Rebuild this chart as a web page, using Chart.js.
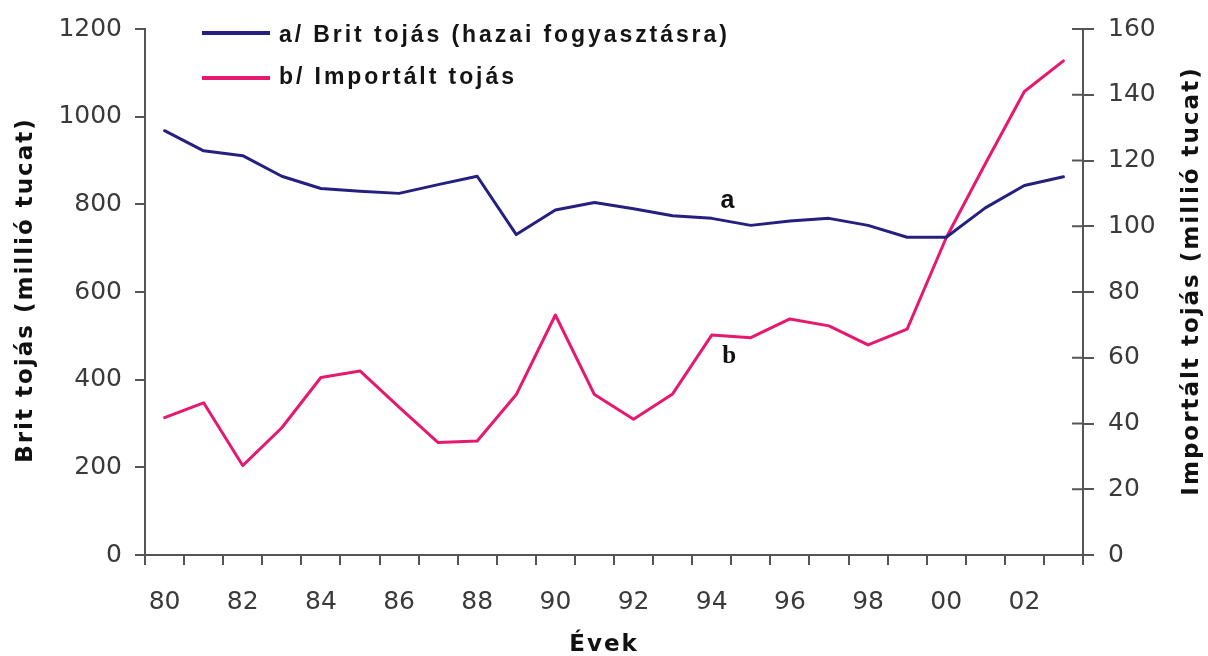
<!DOCTYPE html>
<html>
<head>
<meta charset="utf-8">
<script src="https://cdn.jsdelivr.net/npm/chart.js@4.4.1/dist/chart.umd.min.js"></script>
<style>
  html, body { margin: 0; padding: 0; background: #fff; }
  #wrap { width: 1208px; height: 656px; position: relative; }
</style>
</head>
<body>
<div id="wrap"><canvas id="eggChart"></canvas></div>
<script>
// British eggs vs imported eggs, 1980-2003

const years = ['80', '81', '82', '83', '84', '85', '86', '87', '88', '89', '90', '91',
               '92', '93', '94', '95', '96', '97', '98', '99', '00', '01', '02', '03'];
const britEggs = [968, 922, 911, 864, 836, 830, 825, 845, 864, 731, 787, 804,
                  790, 774, 768, 752, 762, 768, 752, 725, 725, 792, 843, 863];
const importEggs = [41.8, 46.3, 27.2, 38.7, 54, 56, 45, 34.2, 34.7, 48.8, 73, 48.8,
                    41.3, 49, 66.9, 66.1, 71.8, 69.7, 63.9, 68.7, 96.5, 119, 141, 150.3];
const seriesNames = ['a/ Brit tojás (hazai fogyasztásra)', 'b/ Importált tojás'];
const seriesColors = ['#25207f', '#e5196f'];
const leftTitle = 'Brit tojás (millió tucat)';
const rightTitle = 'Importált tojás (millió tucat)';
const xTitle = 'Évek';
// line tags: letter, category position, value on its own axis
const tagText = ['a', 'b'];
const tagIndex = [14.4, 14.45];
const tagValue = [808, 60.5];

const axisColor = '#555';
const tickFont = { family: '"DejaVu Sans", Verdana, sans-serif', size: 25 };

const extras = {
  id: 'extras',
  afterDraw(chart) {
    const ctx = chart.ctx;
    const area = chart.chartArea;
    const xs = chart.scales.x, ys = chart.scales.y, ys1 = chart.scales.y1;
    ctx.save();

    // inner half of the right axis ticks
    ctx.strokeStyle = axisColor;
    ctx.lineWidth = 2;
    ys1.ticks.forEach(t => {
      const py = ys1.getPixelForValue(t.value);
      ctx.beginPath();
      ctx.moveTo(area.right - 11, py);
      ctx.lineTo(area.right, py);
      ctx.stroke();
    });

    // axis titles
    ctx.fillStyle = '#111';
    ctx.font = 'bold 23px "DejaVu Sans", Verdana, sans-serif';
    ctx.letterSpacing = '2px';
    ctx.textAlign = 'center';
    ctx.textBaseline = 'middle';
    const midY = (area.top + area.bottom) / 2;
    ctx.save();
    ctx.translate(26, midY - 2);
    ctx.rotate(-Math.PI / 2);
    ctx.fillText(leftTitle, 0, 0);
    ctx.restore();
    ctx.save();
    ctx.translate(1192, midY - 11);
    ctx.rotate(-Math.PI / 2);
    ctx.fillText(rightTitle, 0, 0);
    ctx.restore();
    ctx.fillText(xTitle, (area.left + area.right) / 2 - 10, 645);

    // legend, spaced out so the first entry runs to about x=727
    ctx.textAlign = 'left';
    ctx.textBaseline = 'alphabetic';
    ctx.font = 'bold 23px "Liberation Sans", Arial, sans-serif';
    ctx.letterSpacing = '0px';
    const first = seriesNames[0];
    const spacing = Math.max(0, (448 - ctx.measureText(first).width) / (first.length - 1));
    ctx.letterSpacing = spacing.toFixed(2) + 'px';
    const rows = [{ line: 33, base: 42 }, { line: 78, base: 84 }];
    chart.data.datasets.forEach((ds, i) => {
      ctx.strokeStyle = ds.borderColor;
      ctx.lineWidth = 4;
      ctx.beginPath();
      ctx.moveTo(202, rows[i].line);
      ctx.lineTo(270, rows[i].line);
      ctx.stroke();
      ctx.fillStyle = '#141414';
      ctx.fillText(ds.label, 279, rows[i].base);
    });

    // a / b tags next to the lines
    ctx.letterSpacing = '0px';
    ctx.textAlign = 'center';
    ctx.textBaseline = 'middle';
    ctx.fillStyle = '#111';
    ctx.font = 'bold 25px "Liberation Sans", Arial, sans-serif';
    ctx.fillText(tagText[0], xs.getPixelForValue(tagIndex[0]), ys.getPixelForValue(tagValue[0]));
    ctx.font = 'bold 25px "Liberation Serif", "Times New Roman", serif';
    ctx.fillText(tagText[1], xs.getPixelForValue(tagIndex[1]), ys1.getPixelForValue(tagValue[1]));

    ctx.restore();
  }
};

new Chart(document.getElementById('eggChart'), {
  type: 'line',
  data: {
    labels: years,
    datasets: [
      { label: seriesNames[0], data: britEggs, borderColor: seriesColors[0], yAxisID: 'y' },
      { label: seriesNames[1], data: importEggs, borderColor: seriesColors[1], yAxisID: 'y1' }
    ]
  },
  options: {
    responsive: true,
    maintainAspectRatio: false,
    animation: false,
    layout: { padding: { top: 25, left: 0, right: 0, bottom: 0 } },
    elements: {
      line: { borderWidth: 3, tension: 0, borderJoinStyle: 'round', borderCapStyle: 'round' },
      point: { radius: 0, hoverRadius: 0 }
    },
    plugins: { legend: { display: false }, tooltip: { enabled: false } },
    scales: {
      x: {
        offset: true,
        grid: { offset: true, drawOnChartArea: false, color: axisColor, lineWidth: 2, tickLength: 10 },
        border: { color: axisColor, width: 2 },
        ticks: {
          autoSkip: false, maxRotation: 0, padding: 22, color: '#3a3a3a', font: tickFont,
          callback: (v, i) => (i % 2 === 0 ? years[i] : '')
        },
        afterFit: s => { s.height = 101; }
      },
      y: {
        position: 'left',
        min: 0, max: 1200,
        grid: { drawOnChartArea: false, color: axisColor, lineWidth: 2, tickLength: 10 },
        border: { color: axisColor, width: 2 },
        ticks: { stepSize: 200, padding: 13, color: '#3a3a3a', font: tickFont, callback: v => String(v) },
        afterFit: s => { s.width = 145; }
      },
      y1: {
        position: 'right',
        min: 0, max: 160,
        grid: { drawOnChartArea: false, color: axisColor, lineWidth: 2, tickLength: 11 },
        border: { color: axisColor, width: 2 },
        ticks: { stepSize: 20, padding: 14, color: '#3a3a3a', font: tickFont, callback: v => String(v) },
        afterFit: s => { s.width = 125; }
      }
    }
  },
  plugins: [extras]
});
</script>
</body>
</html>
